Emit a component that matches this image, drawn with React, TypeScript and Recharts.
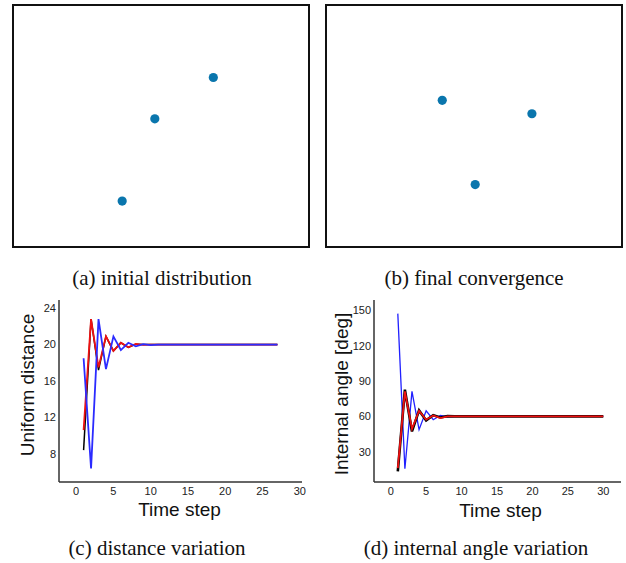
import { Label, Line, LineChart, Scatter, ScatterChart, XAxis, YAxis } from 'recharts';

// robot positions, percent of box width / height (y up)
const initialX = [67.8, 47.9, 36.8];
const initialY = [70.2, 53.0, 18.7];
const finalX = [39.2, 69.7, 50.4];
const finalY = [60.7, 55.1, 25.6];

const distSteps = [1, 2, 3, 4, 5, 6, 7, 8, 9, 10, 11, 12, 13, 14, 15, 16, 17, 18, 19, 20, 21, 22, 23, 24, 25, 26, 27];
const distBlack = [8.4, 22.8, 17.2, 20.9, 19.3, 20.2, 19.7, 20.05, 20, 20, 20, 20, 20, 20, 20, 20, 20, 20, 20, 20, 20, 20, 20, 20, 20, 20, 20];
const distRed = [10.6, 22.8, 17.5, 20.9, 19.3, 20.2, 19.7, 20.07, 19.97, 20, 20, 20, 20, 20, 20, 20, 20, 20, 20, 20, 20, 20, 20, 20, 20, 20, 20];
const distBlue = [18.5, 6.4, 22.8, 17.3, 20.9, 19.4, 20.2, 19.8, 20.05, 19.95, 20, 20, 20, 20, 20, 20, 20, 20, 20, 20, 20, 20, 20, 20, 20, 20, 20];

const angleSteps = [1, 2, 3, 4, 5, 6, 7, 8, 9, 10, 11, 12, 13, 14, 15, 16, 17, 18, 19, 20, 21, 22, 23, 24, 25, 26, 27, 28, 29, 30];
const angleBlue = [147.4, 15.5, 81.3, 48.7, 64.8, 57.2, 60.9, 59.7, 60.1, 60, 60, 60, 60, 60, 60, 60, 60, 60, 60, 60, 60, 60, 60, 60, 60, 60, 60, 60, 60, 60];
const angleBlack = [13.2, 82.7, 47.2, 65.1, 56.6, 61.1, 59.1, 60.2, 60, 60, 60, 60, 60, 60, 60, 60, 60, 60, 60, 60, 60, 60, 60, 60, 60, 60, 60, 60, 60, 60];
const angleRed = [16, 81.3, 49.2, 64.8, 57.2, 60.8, 58.6, 60, 60, 60, 60, 60, 60, 60, 60, 60, 60, 60, 60, 60, 60, 60, 60, 60, 60, 60, 60, 60, 60, 60];

const xTicks = [0, 5, 10, 15, 20, 25, 30];
const distTicks = [8, 12, 16, 20, 24];
const angleTicks = [30, 60, 90, 120, 150];

const SANS = 'Liberation Sans, Arial, sans-serif';
const SERIF = 'Liberation Serif, Times New Roman, serif';
const TICK = { fill: '#222', fontSize: 11, fontFamily: SANS };
const AXIS = { stroke: '#333', strokeWidth: 1.5 };

const distData = distSteps.map((t, i) => ({ t, black: distBlack[i], red: distRed[i], blue: distBlue[i] }));
const angleData = angleSteps.map((t, i) => ({ t, black: angleBlack[i], red: angleRed[i], blue: angleBlue[i] }));

const dot = (p: any) => <circle cx={p.cx} cy={p.cy} r={4.6} fill="#0a76ad" />;

function Field({ xs, ys, left }: { xs: number[]; ys: number[]; left: number }) {
  const data = xs.map((x, i) => ({ x, y: ys[i] }));
  return (
    <div
      style={{
        position: 'absolute',
        left,
        top: 4,
        width: 298,
        height: 244,
        border: '2px solid #111',
        boxSizing: 'border-box',
      }}
    >
      <ScatterChart width={294} height={240} margin={{ top: 0, right: 0, bottom: 0, left: 0 }}>
        <XAxis type="number" dataKey="x" domain={[0, 100]} hide />
        <YAxis type="number" dataKey="y" domain={[0, 100]} hide />
        <Scatter data={data} shape={dot} isAnimationActive={false} />
      </ScatterChart>
    </div>
  );
}

const yLabel = (text: string, x: number, shift: number) => (props: any) => {
  const vb = props.viewBox;
  const y = vb.y + vb.height / 2 + shift;
  return (
    <text
      x={x}
      y={y}
      transform={`rotate(-90 ${x} ${y})`}
      textAnchor="middle"
      dominantBaseline="central"
      fontFamily={SANS}
      fontSize={19}
      fill="#111"
    >
      {text}
    </text>
  );
};

const xLabel = (text: string, shift: number, baseline: number) => (props: any) => {
  const vb = props.viewBox;
  return (
    <text
      x={vb.x + vb.width / 2 + shift}
      y={baseline}
      textAnchor="middle"
      fontFamily={SANS}
      fontSize={19}
      fill="#111"
    >
      {text}
    </text>
  );
};

function Caption({ text, cx, baseline }: { text: string; cx: number; baseline: number }) {
  return (
    <div
      style={{
        position: 'absolute',
        left: cx - 150,
        width: 300,
        top: baseline - 17,
        textAlign: 'center',
        fontFamily: SERIF,
        fontSize: 21,
        lineHeight: '21px',
        color: '#111',
        whiteSpace: 'nowrap',
      }}
    >
      {text}
    </div>
  );
}

export default function App() {
  return (
    <div style={{ position: 'absolute', left: 0, top: 0, width: 626, height: 563, background: '#fff' }}>
      <Field xs={initialX} ys={initialY} left={12} />
      <Field xs={finalX} ys={finalY} left={325} />
      <Caption text="(a) initial distribution" cx={162} baseline={285} />
      <Caption text="(b) final convergence" cx={474} baseline={285} />

      <div style={{ position: 'absolute', left: 0, top: 290 }}>
        <LineChart width={310} height={240} data={distData} margin={{ top: 10, right: 8, bottom: 0, left: 0 }}>
          <XAxis
            type="number"
            dataKey="t"
            domain={[-2.3, 30.3]}
            ticks={xTicks}
            tick={TICK}
            tickLine={false}
            tickSize={0}
            tickMargin={5}
            axisLine={AXIS}
            height={48}
            allowDataOverflow
          >
            <Label content={xLabel('Time step', -1, 226)} />
          </XAxis>
          <YAxis
            type="number"
            domain={[4.9, 24.9]}
            ticks={distTicks}
            tick={TICK}
            tickLine={false}
            tickSize={0}
            tickMargin={3}
            axisLine={AXIS}
            width={59}
            allowDataOverflow
          >
            <Label content={yLabel('Uniform distance', 27, -6)} />
          </YAxis>
          <Line dataKey="black" stroke="#000" strokeWidth={1.5} dot={false} isAnimationActive={false} />
          <Line dataKey="red" stroke="#ee1111" strokeWidth={1.8} dot={false} isAnimationActive={false} />
          <Line dataKey="blue" stroke="#2b2bff" strokeWidth={1.8} dot={false} isAnimationActive={false} />
        </LineChart>
      </div>

      <div style={{ position: 'absolute', left: 315, top: 290 }}>
        <LineChart width={310} height={240} data={angleData} margin={{ top: 10, right: 4, bottom: 0, left: 0 }}>
          <XAxis
            type="number"
            dataKey="t"
            domain={[-2.36, 32.5]}
            ticks={xTicks}
            tick={TICK}
            tickLine={false}
            tickSize={0}
            tickMargin={5}
            axisLine={AXIS}
            height={48}
            allowDataOverflow
          >
            <Label content={xLabel('Time step', 3, 227)} />
          </XAxis>
          <YAxis
            type="number"
            domain={[4.2, 159]}
            ticks={angleTicks}
            tick={TICK}
            tickLine={false}
            tickSize={0}
            tickMargin={3}
            axisLine={AXIS}
            width={59}
            allowDataOverflow
          >
            <Label content={yLabel('Internal angle [deg]', 26, 3)} />
          </YAxis>
          <Line dataKey="blue" stroke="#2020ff" strokeWidth={1.3} dot={false} isAnimationActive={false} />
          <Line dataKey="black" stroke="#000" strokeWidth={2.6} dot={false} isAnimationActive={false} />
          <Line dataKey="red" stroke="#ee1111" strokeWidth={1.8} dot={false} isAnimationActive={false} />
        </LineChart>
      </div>

      <Caption text="(c) distance variation" cx={157} baseline={555} />
      <Caption text="(d) internal angle variation" cx={476} baseline={555} />
    </div>
  );
}
